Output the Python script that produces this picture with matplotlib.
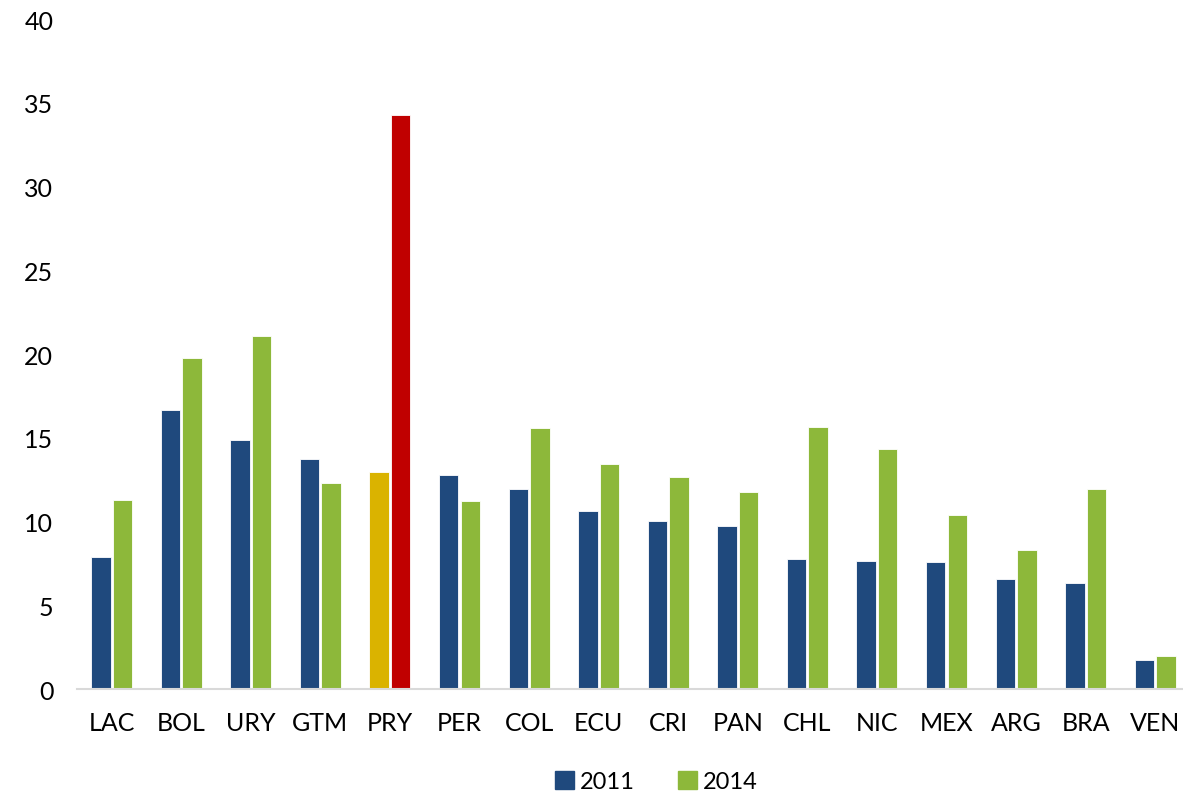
import matplotlib
matplotlib.use("Agg")
import matplotlib.pyplot as plt
import numpy as np

plt.rcParams["font.family"] = ["Lato", "DejaVu Sans"]

countries = ["LAC", "BOL", "URY", "GTM", "PRY", "PER", "COL", "ECU",
             "CRI", "PAN", "CHL", "NIC", "MEX", "ARG", "BRA", "VEN"]
values_2011 = [7.9, 16.65, 14.85, 13.75, 12.95, 12.75, 11.95, 10.65,
               10.05, 9.75, 7.75, 7.65, 7.6, 6.55, 6.35, 1.72]
values_2014 = [11.3, 19.75, 21.05, 12.3, 34.25, 11.2, 15.6, 13.45,
               12.65, 11.75, 15.65, 14.35, 10.4, 8.3, 11.95, 1.97]
highlight = "PRY"

NAVY = "#1F497D"
GREEN = "#8DB83A"
YELLOW = "#DAB300"
RED = "#C00000"

fig = plt.figure(figsize=(11.83, 8.03), dpi=100)
ax = fig.add_axes([0.065, 0.1407, 0.935, 0.8343])

x = np.arange(len(countries))
c11 = [YELLOW if c == highlight else NAVY for c in countries]
c14 = [RED if c == highlight else GREEN for c in countries]
w = 0.28
ax.bar(x - 0.155, values_2011, w, color=c11, edgecolor="white", linewidth=0.6, label="2011")
ax.bar(x + 0.155, values_2014, w, color=c14, edgecolor="white", linewidth=0.6, label="2014")

ax.set_ylim(0, 40)
ax.set_xlim(-0.5, 15.4)
ax.set_yticks(range(0, 41, 5))
ax.set_xticks(x)
ax.set_xticklabels(countries)
ax.tick_params(axis="both", length=0, labelsize=18)
ax.tick_params(axis="x", pad=16)
ax.tick_params(axis="y", pad=17)
for s in ["top", "right", "left"]:
    ax.spines[s].set_visible(False)
ax.spines["bottom"].set_color("#D9D9D9")
ax.spines["bottom"].set_linewidth(1.5)

handles = [plt.Rectangle((0, 0), 1, 1, color=NAVY), plt.Rectangle((0, 0), 1, 1, color=GREEN)]
fig.legend(handles, ["2011", "2014"], loc="lower center", bbox_to_anchor=(0.555, -0.014),
           ncol=2, frameon=False, fontsize=17, handlelength=0.8, handleheight=0.8,
           handletextpad=0.25, columnspacing=1.85)

fig.savefig("out.png", dpi=100)
